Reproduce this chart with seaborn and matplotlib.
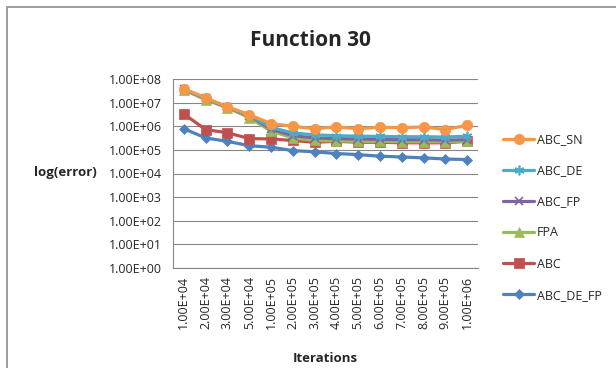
import matplotlib
matplotlib.use("Agg")
import matplotlib.pyplot as plt
import seaborn as sns
import pandas as pd
import numpy as np
from matplotlib.patches import Rectangle

sns.set_style("white")
plt.rcParams['font.family'] = ['Open Sans', 'DejaVu Sans']

iterations = ["1.00E+04", "2.00E+04", "3.00E+04", "5.00E+04", "1.00E+05", "2.00E+05",
              "3.00E+05", "4.00E+05", "5.00E+05", "6.00E+05", "7.00E+05", "8.00E+05",
              "9.00E+05", "1.00E+06"]

abc_sn = [3.9e7, 1.6e7, 6.6e6, 3.1e6, 1.3e6, 1.0e6, 7.8e5, 9.4e5, 7.8e5, 9.1e5, 8.6e5, 9.4e5, 7.2e5, 1.1e6]
abc_de = [3.7e7, 1.5e7, 6.5e6, 2.9e6, 9.0e5, 5.2e5, 4.3e5, 4.0e5, 3.8e5, 3.7e5, 3.6e5, 3.6e5, 3.5e5, 3.8e5]
abc_fp = [3.6e7, 1.5e7, 6.3e6, 2.8e6, 7.5e5, 4.0e5, 3.2e5, 3.0e5, 2.9e5, 2.8e5, 2.7e5, 2.7e5, 2.6e5, 2.7e5]
fpa = [3.5e7, 1.3e7, 6.0e6, 2.3e6, 6.2e5, 3.2e5, 2.5e5, 2.4e5, 2.3e5, 2.3e5, 2.2e5, 2.2e5, 2.2e5, 2.3e5]
abc = [3.3e6, 7.2e5, 5.3e5, 3.0e5, 2.9e5, 2.5e5, 2.1e5, 2.3e5, 2.1e5, 2.1e5, 2.0e5, 2.0e5, 2.0e5, 2.3e5]
abc_de_fp = [7.8e5, 3.2e5, 2.3e5, 1.5e5, 1.3e5, 9.3e4, 8.3e4, 7.0e4, 6.3e4, 5.4e4, 5.0e4, 4.6e4, 4.1e4, 3.9e4]

series_names = ["ABC_SN", "ABC_DE", "ABC_FP", "FPA", "ABC", "ABC_DE_FP"]
series_vals = [abc_sn, abc_de, abc_fp, fpa, abc, abc_de_fp]
colors = ["#F79646", "#4BACC6", "#8064A2", "#9BBB59", "#C0504D", "#4F81BD"]
markers = ["o", (6, 2, 0), "x", "^", "s", "D"]
msizes = [7.5, 7, 6, 7, 7, 5.5]
zorders = [8, 7, 6, 5, 4, 3]

fig = plt.figure(figsize=(6.16, 3.68), dpi=100)
ax = fig.add_axes([173/616, 1-268/368, 305/616, 189/368])

x = np.arange(len(iterations))
for name, vals, c, m, ms, z in zip(series_names, series_vals, colors, markers, msizes, zorders):
    df = pd.DataFrame({"x": x, "y": vals})
    sns.lineplot(data=df, x="x", y="y", ax=ax, color=c, marker=m, markersize=ms,
                 linewidth=2.3, markeredgecolor=c, markeredgewidth=1.2 if m in ("x",) or isinstance(m, tuple) else 0.5,
                 label=name, zorder=z, clip_on=False)

ax.set_yscale("log")
ax.set_ylim(1, 1e8)
ax.set_xlim(-0.5, len(iterations) - 0.5)
yt = [10.0**k for k in range(9)]
ax.set_yticks(yt)
ax.set_yticklabels([f"1.00E+{k:02d}" for k in range(9)], fontsize=9)
ax.yaxis.set_minor_locator(matplotlib.ticker.NullLocator())
ax.set_xticks(x)
ax.set_xticklabels(iterations, rotation=90, fontsize=9)
ax.set_xticks(np.arange(-0.5, len(iterations)), minor=True)
ax.tick_params(axis="x", which="major", length=0, pad=6)
ax.tick_params(axis="x", which="minor", length=5, color="#868686", width=0.8, direction="out")
ax.tick_params(axis="y", which="major", length=5, color="#868686", width=0.8, direction="out", pad=3)
ax.grid(axis="y", color="#868686", linewidth=0.8)
for s in ["top", "right"]:
    ax.spines[s].set_visible(False)
ax.spines["left"].set_color("#868686")
ax.spines["bottom"].set_color("#868686")
ax.spines["left"].set_linewidth(0.8)
ax.spines["bottom"].set_linewidth(0.8)
ax.set_xlabel("")
ax.set_ylabel("")

fig.text(310/616, 1-40/368, "Function 30", ha="center", va="center", fontsize=15, fontweight="bold")
fig.text(65/616, 1-173/368, "log(error)", ha="center", va="center", fontsize=9.5, fontweight="bold")
fig.text(325/616, 1-358/368, "Iterations", ha="center", va="center", fontsize=9.5, fontweight="bold")

leg = ax.legend(loc="upper left", bbox_to_anchor=(498/616, 1-128/368), bbox_transform=fig.transFigure,
                frameon=False, fontsize=9, labelspacing=1.45, handlelength=2.5, handletextpad=0.2,
                borderaxespad=0)

fig.patches.append(Rectangle((7/616, -0.1), 1.2, 1 - 7/368 + 0.1, transform=fig.transFigure,
                             fill=False, edgecolor="#8c8c8c", linewidth=1.2, figure=fig))

fig.savefig("out.png", dpi=100)
